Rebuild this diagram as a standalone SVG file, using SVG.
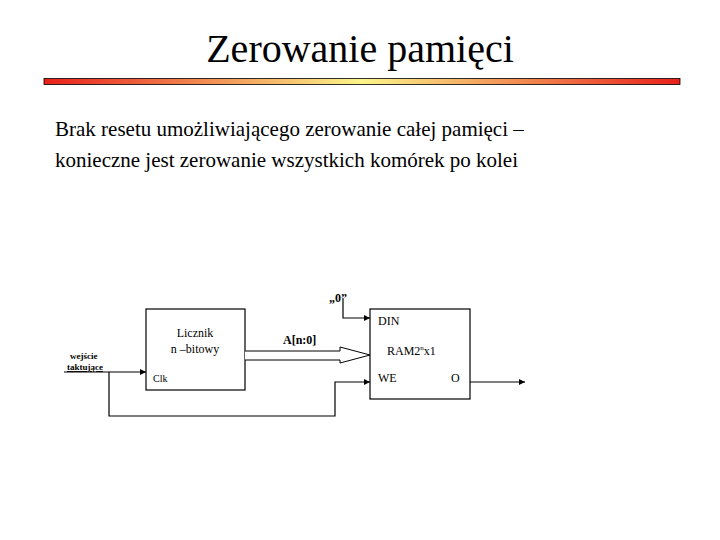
<svg xmlns="http://www.w3.org/2000/svg" width="720" height="540" viewBox="0 0 720 540">
<defs>
<linearGradient id="g" x1="0" x2="1" y1="0" y2="0"><stop offset="0" stop-color="#e8201a"/><stop offset="0.5" stop-color="#fbf58a"/><stop offset="1" stop-color="#e8201a"/></linearGradient>
<marker id="a" viewBox="0 0 10 10" refX="10" refY="5" markerWidth="5" markerHeight="5" orient="auto"><path d="M0,0L10,5L0,10z" fill="#000"/></marker>
</defs>
<style>
text{font-family:"Liberation Serif","Times New Roman",serif;fill:#000}
.s{font-size:12px}
.w{stroke:#000;fill:none;stroke-width:1.2}
</style>
<rect width="720" height="540" fill="#fff"/>
<text x="360" y="62" font-size="40" text-anchor="middle">Zerowanie pamięci</text>
<rect x="44" y="78.5" width="636" height="6" fill="url(#g)" stroke="#000" stroke-width="0.8"/>
<text x="55" y="136" font-size="21">Brak resetu umożliwiającego zerowanie całej pamięci –</text>
<text x="55" y="167" font-size="21">konieczne jest zerowanie wszystkich komórek po kolei</text>
<g id="counter"><rect x="146" y="309" width="99" height="81" class="w" stroke-width="1"/>
<text x="195" y="337" class="s" text-anchor="middle">Licznik</text>
<text x="195" y="353" class="s" text-anchor="middle">n –bitowy</text>
<text x="153" y="382" font-size="10">Clk</text></g>
<g id="ram"><rect x="370" y="309" width="100" height="90" class="w" stroke-width="1"/>
<text x="378" y="325" class="s">DIN</text>
<text x="387" y="355" class="s">RAM2<tspan font-size="7" dy="-5">n</tspan><tspan dy="5">x1</tspan></text>
<text x="378" y="382" class="s">WE</text>
<text x="451" y="382" class="s">O</text></g>
<g id="labels">
<text x="70" y="359" font-size="9" font-weight="bold">wejście</text>
<text x="67" y="370" font-size="9" font-weight="bold" text-decoration="underline">taktujące</text>
<text x="283" y="344" class="s" font-weight="bold">A[n:0]</text>
<text x="329" y="302" class="s" font-weight="bold">„0”</text>
</g>
<g id="connectors">
<path d="M64,372H146" class="w" marker-end="url(#a)"/>
<path d="M109,372V416H335V382H370" class="w" marker-end="url(#a)"/>
<path d="M343,298V318H370" class="w" marker-end="url(#a)"/>
<path d="M470,382H525" class="w" marker-end="url(#a)"/>
<path d="M245,351H340V347L370,355L340,363V360H245" fill="#fff" stroke="#000" stroke-width="1"/>
</g>
</svg>
